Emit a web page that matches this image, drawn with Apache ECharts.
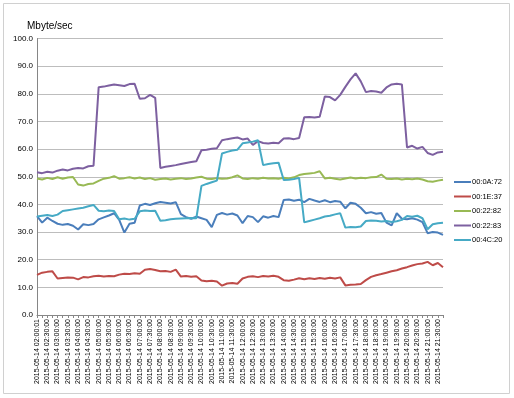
<!DOCTYPE html>
<html>
<head>
<meta charset="utf-8">
<style>
  html, body { margin: 0; padding: 0; background: #fff; }
  #main { width: 514px; height: 398px; }
</style>
<script src="https://cdn.jsdelivr.net/npm/echarts@6/dist/echarts.min.js"></script>
</head>
<body>
<div id="main"></div>
<script>
// 时间轴：每15分钟一个点
const times = []
for (let h = 2; h < 22; h++) {
    for (let m = 0; m < 60; m += 15) {
        const hh = (h < 10 ? '0' : '') + h
        const mm = m === 0 ? '00' : String(m)
        times.push(`2015-05-14 ${hh}:${mm}:00`)
    }
}
times[0] = '2015-05-14 02:00:01'

const yTicks = [0, 10, 20, 30, 40, 50, 60, 70, 80, 90, 100]

const s0A72 = [35.8, 33.4, 35.2, 34.0, 33.0, 32.6, 32.9, 32.3, 30.9, 32.8,
    32.5, 32.9, 34.6, 35.3, 36.0, 36.8, 34.4, 29.8, 33.0, 33.4,
    39.6, 40.2, 39.8, 40.4, 40.9, 40.6, 40.3, 40.8, 36.5, 35.4,
    34.8, 35.6, 35.0, 34.4, 31.8, 36.2, 36.9, 36.3, 36.7, 36.0,
    33.2, 35.8, 35.4, 33.6, 35.7, 35.2, 35.8, 35.4, 41.6, 41.8,
    41.3, 41.7, 40.8, 42.0, 41.4, 40.9, 41.5, 40.8, 41.2, 41.0,
    38.6, 40.6, 40.2, 38.8, 36.8, 37.2, 36.6, 36.9, 33.4, 32.4,
    36.8, 34.8, 34.6, 35.0, 34.5, 33.6, 29.6, 30.0, 29.8, 29.0]

const s1E37 = [14.5, 15.3, 15.6, 15.8, 13.2, 13.4, 13.6, 13.5, 12.9, 13.7,
    13.6, 14.0, 14.2, 13.9, 14.1, 14.0, 14.6, 14.9, 14.8, 15.1,
    14.9, 16.4, 16.6, 16.3, 15.8, 15.9, 15.6, 16.4, 13.9, 14.1,
    13.8, 14.0, 12.5, 12.2, 12.4, 12.1, 10.6, 11.4, 11.6, 11.3,
    13.2, 13.8, 14.0, 13.7, 14.1, 13.9, 14.2, 13.8, 12.6, 12.4,
    12.8, 13.3, 12.9, 13.3, 13.0, 13.4, 13.1, 13.5, 13.2, 13.6,
    10.7, 10.9, 11.0, 11.2, 12.6, 13.8, 14.4, 14.8, 15.3, 15.8,
    16.2, 16.8, 17.3, 17.9, 18.4, 18.6, 19.2, 18.0, 18.8, 17.3]

const s2282 = [49.4, 49.0, 49.6, 49.2, 49.8, 49.3, 49.7, 49.9, 47.2, 46.8,
    47.4, 47.6, 48.5, 49.3, 49.6, 50.2, 49.3, 49.5, 49.8, 49.4,
    49.7, 49.2, 49.5, 48.9, 49.2, 49.4, 49.0, 49.3, 49.5, 49.2,
    49.4, 49.7, 50.0, 49.3, 49.2, 49.5, 49.3, 49.4, 49.8, 50.5,
    49.4, 49.2, 49.5, 49.3, 49.6, 49.4, 49.5, 49.3, 49.6, 49.4,
    49.8, 50.6, 51.0, 51.2, 51.4, 52.0, 49.4, 49.6, 49.3, 49.0,
    49.4, 49.7, 49.4, 49.6, 49.5, 49.8, 49.9, 50.8, 49.3, 49.2,
    49.4, 49.0, 49.3, 49.1, 49.4, 49.0, 48.4, 48.2, 48.6, 48.9]

const s2283 = [51.6, 51.3, 51.8, 51.5, 52.2, 52.6, 52.3, 52.9, 53.2, 53.0,
    53.8, 54.0, 82.4, 82.6, 83.0, 83.4, 83.1, 82.8, 83.5, 83.6,
    78.2, 78.4, 79.6, 78.5, 53.2, 53.6, 53.9, 54.2, 54.6, 55.0,
    55.3, 55.6, 59.6, 59.8, 60.1, 60.3, 63.2, 63.6, 63.9, 64.2,
    63.5, 63.8, 61.5, 62.9, 62.2, 62.0, 62.3, 62.1, 63.8, 63.9,
    63.6, 64.0, 71.5, 71.6, 71.4, 71.7, 79.0, 78.8, 77.6, 79.6,
    82.5, 85.2, 87.4, 84.5, 80.6, 81.0, 80.8, 80.4, 82.3, 83.4,
    83.6, 83.4, 60.6, 61.2, 60.2, 60.8, 58.6, 57.9, 58.8, 59.0]

const s4C20 = [35.6, 35.9, 36.2, 35.8, 36.3, 37.6, 37.9, 38.2, 38.5, 38.8,
    39.3, 39.8, 37.7, 37.5, 37.8, 37.6, 34.6, 34.9, 34.5, 34.8,
    37.5, 37.8, 37.6, 37.7, 34.1, 34.3, 34.6, 34.8, 34.9, 35.0,
    35.1, 35.0, 46.7, 47.4, 48.0, 48.6, 58.4, 59.0, 59.5, 59.8,
    62.1, 62.4, 62.7, 63.2, 54.2, 54.6, 54.9, 55.1, 48.8, 48.9,
    49.2, 49.6, 33.5, 34.0, 34.5, 35.0, 35.6, 35.9, 36.4, 36.8,
    31.6, 31.8, 31.7, 32.0, 34.0, 34.2, 34.1, 33.8, 34.0, 33.6,
    33.9, 34.4, 35.8, 35.5, 35.9, 35.0, 31.0, 32.8, 33.2, 33.4]

const names = ['00:0A:72', '00:1E:37', '00:22:82', '00:22:83', '00:4C:20']
const colors = ['#4a7ebb', '#be4b48', '#98b954', '#7d60a0', '#46aac5']
const allData = [s0A72, s1E37, s2282, s2283, s4C20]

const myChart = echarts.init(document.getElementById('main'))

const option = {
    animation: false,
    backgroundColor: '#fff',
    color: colors,
    title: {
        text: 'Mbyte/sec',
        left: 22,
        top: 16,
        textStyle: { fontSize: 10, fontWeight: 'normal', color: '#000', fontFamily: 'Liberation Sans' }
    },
    graphic: [{
        type: 'rect',
        shape: { x: 3.5, y: 3.5, width: 506, height: 390 },
        style: { fill: 'none', stroke: '#d0d0d0', lineWidth: 1 },
        silent: true
    }],
    legend: {
        orient: 'vertical',
        left: 454,
        top: 177,
        padding: 0,
        itemWidth: 17,
        itemHeight: 2,
        itemGap: 4.5,
        icon: 'rect',
        textStyle: { fontSize: 7.5, color: '#000', padding: [0, 0, 0, -4], fontFamily: 'Liberation Sans', lineHeight: 10 },
        data: names
    },
    grid: { left: 37, right: 71, top: 38.5, bottom: 83, containLabel: false },
    xAxis: {
        type: 'category',
        boundaryGap: false,
        data: times,
        axisLine: { lineStyle: { color: '#868686', width: 1 } },
        axisTick: { show: true, interval: 0, length: 3, lineStyle: { color: '#868686' } },
        axisLabel: {
            interval: 1,
            rotate: 90,
            fontSize: 7,
            margin: 4,
            color: '#000',
            fontFamily: 'Liberation Sans'
        }
    },
    yAxis: {
        type: 'value',
        min: yTicks[0],
        max: yTicks[yTicks.length - 1],
        interval: 10,
        axisLine: { show: true, lineStyle: { color: '#868686' } },
        axisTick: { show: false },
        axisLabel: {
            fontSize: 8,
            color: '#000',
            margin: 4,
            fontFamily: 'Liberation Sans',
            formatter: v => v.toFixed(1)
        },
        splitLine: { lineStyle: { color: '#bdbdbd', width: 1 } }
    },
    series: names.map((n, i) => ({
        name: n,
        type: 'line',
        data: allData[i],
        showSymbol: false,
        symbol: 'none',
        lineStyle: { width: 2, color: colors[i] }
    }))
}

myChart.setOption(option)
</script>
</body>
</html>
